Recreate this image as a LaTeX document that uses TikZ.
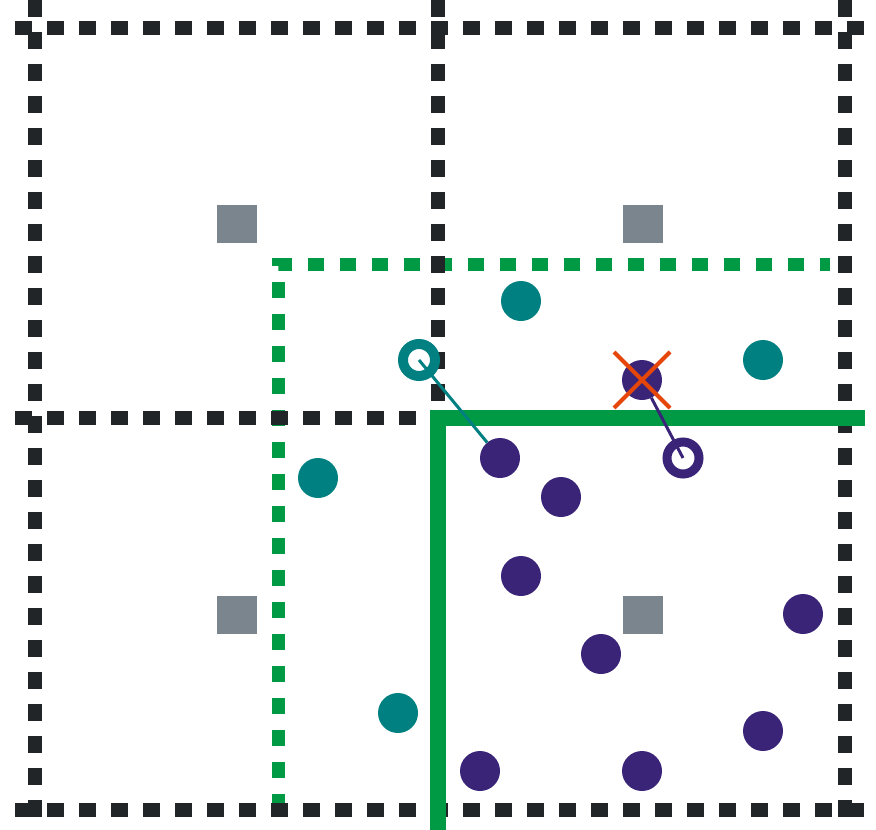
\documentclass[tikz,border=0pt]{standalone}
\usetikzlibrary{positioning}
\definecolor{gridblack}{RGB}{34,37,40}
\definecolor{splitgreen}{RGB}{0,154,68}
\definecolor{dotteal}{RGB}{0,128,128}
\definecolor{dotpurple}{RGB}{58,36,120}
\definecolor{centergray}{RGB}{122,133,142}
\definecolor{crossred}{RGB}{230,70,10}

\begin{document}
\begin{tikzpicture}[
        x=1pt, y=-1pt,
        gridline/.style={draw=gridblack, line width=13.5pt, dash pattern=on 17pt off 15pt},
        regionline/.style={draw=splitgreen, line width=13pt, dash pattern=on 16pt off 16pt},
        splitline/.style={draw=splitgreen, line width=16pt},
        centre/.style={rectangle, fill=centergray, minimum width=40pt, minimum height=38pt, inner sep=0pt},
        tealdot/.style={circle, fill=dotteal, minimum size=40pt, inner sep=0pt},
        purpledot/.style={circle, fill=dotpurple, minimum size=40pt, inner sep=0pt},
        tealring/.style={circle, draw=dotteal, line width=10pt, minimum size=32pt, inner sep=0pt},
        purplering/.style={circle, draw=dotpurple, line width=9pt, minimum size=32pt, inner sep=0pt},
        crossline/.style={draw=crossred, line width=4pt}
    ]
    \useasboundingbox (0,0) rectangle (876,830);

    % search region
    \draw[regionline] (278,810) -- (278,264) -- (830,264);

    % grid
    \foreach \gx in {35,438,845}
        \draw[gridline] (\gx,0) -- (\gx,830);
    \foreach \gy in {28,418,810}
        \draw[gridline] (15,\gy) -- (865,\gy);

    % split
    \draw[splitline] (438,830) -- (438,418) -- (865,418);

    % cell centres
    \node[centre] (c1) at (237,224) {};
    \node[centre] (c2) at (643,224) {};
    \node[centre] (c3) at (237,615) {};
    \node[centre] (c4) at (643,615) {};

    % points
    \node[tealring] (tr) at (419,360) {};
    \node[purplering] (pr) at (683,458) {};

    \node[purpledot] (p1) at (500,458) {};
    \node[purpledot] (px) at (642,380) {};

    \draw[draw=dotteal, line width=3pt] (tr.center) -- (p1);
    \draw[draw=dotpurple, line width=3pt] (px) -- (pr.center);

    \node[tealdot] (t1) at (521,301) {};
    \node[tealdot] (t2) at (763,360) {};
    \node[tealdot] (t3) at (318,478) {};
    \node[tealdot] (t4) at (398,713) {};

    \node[purpledot] (p2) at (561,497) {};
    \node[purpledot] (p3) at (521,576) {};
    \node[purpledot] (p4) at (803,614) {};
    \node[purpledot] (p5) at (601,654) {};
    \node[purpledot] (p6) at (763,731) {};
    \node[purpledot] (p7) at (480,771) {};
    \node[purpledot] (p8) at (642,771) {};

    % removed point
    \draw[crossline] ([shift={(-28,-28)}]px.center) -- ([shift={(28,28)}]px.center);
    \draw[crossline] ([shift={(28,-28)}]px.center) -- ([shift={(-28,28)}]px.center);
\end{tikzpicture}
\end{document}
